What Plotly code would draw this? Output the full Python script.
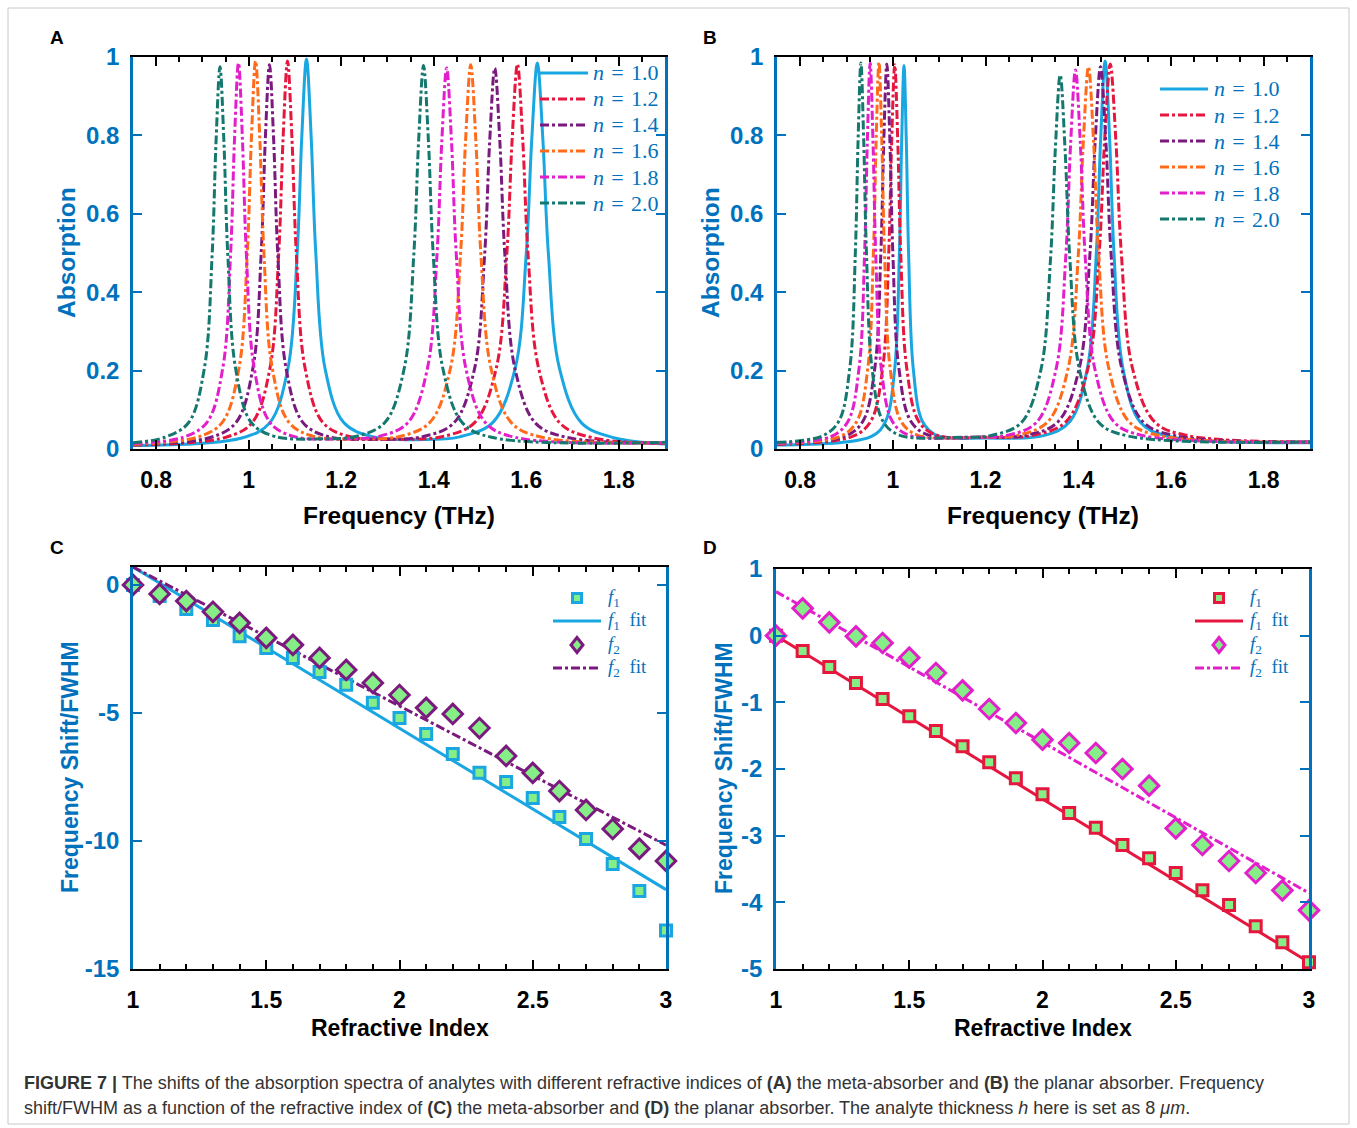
import plotly.graph_objects as go

W, H = 1357, 1128

# ---------------- Data ----------------
legend_n = ["1.0", "1.2", "1.4", "1.6", "1.8", "2.0"]
curve_colors = ["#1AA7E1", "#E5173F", "#7B1A7E", "#FF6B1A", "#E31FCB", "#15786E"]
curve_dash = ["solid", "dashdot", "dashdot", "dashdot", "dashdot", "dashdot"]

# Panel A (meta-absorber) absorption spectra
A_f_10 = [0.75, 0.985, 1.045, 1.085, 1.105, 1.115, 1.125, 1.135, 1.145, 1.165, 1.205, 1.265, 1.375, 1.456, 1.528, 1.576, 1.600, 1.612, 1.624, 1.636, 1.648, 1.672, 1.720, 1.792, 1.9]
A_a_10 = [0.009, 0.028, 0.066, 0.206, 0.503, 0.80, 0.995, 0.80, 0.503, 0.206, 0.068, 0.032, 0.024, 0.031, 0.068, 0.205, 0.497, 0.79, 0.985, 0.79, 0.497, 0.205, 0.066, 0.028, 0.013]
A_f_12 = [0.75, 0.951, 1.008, 1.046, 1.065, 1.0745, 1.084, 1.0935, 1.103, 1.122, 1.160, 1.217, 1.33, 1.42, 1.489, 1.535, 1.558, 1.5695, 1.581, 1.5925, 1.604, 1.627, 1.673, 1.742, 1.9]
A_a_12 = [0.010, 0.030, 0.068, 0.206, 0.50, 0.794, 0.99, 0.794, 0.50, 0.206, 0.068, 0.032, 0.025, 0.032, 0.068, 0.205, 0.496, 0.788, 0.982, 0.788, 0.496, 0.205, 0.066, 0.029, 0.014]
A_f_14 = [0.75, 0.919, 0.973, 1.009, 1.027, 1.036, 1.045, 1.054, 1.063, 1.081, 1.117, 1.171, 1.29, 1.378, 1.444, 1.488, 1.510, 1.521, 1.532, 1.543, 1.554, 1.576, 1.620, 1.686, 1.9]
A_a_14 = [0.011, 0.030, 0.068, 0.205, 0.497, 0.79, 0.98, 0.79, 0.497, 0.205, 0.068, 0.032, 0.025, 0.032, 0.067, 0.203, 0.493, 0.784, 0.972, 0.784, 0.493, 0.203, 0.066, 0.030, 0.015]
A_f_16 = [0.75, 0.889, 0.943, 0.979, 0.997, 1.006, 1.015, 1.024, 1.033, 1.051, 1.087, 1.141, 1.25, 1.326, 1.392, 1.436, 1.458, 1.469, 1.480, 1.491, 1.502, 1.524, 1.568, 1.634, 1.9]
A_a_16 = [0.012, 0.030, 0.068, 0.206, 0.50, 0.795, 0.99, 0.795, 0.50, 0.206, 0.068, 0.032, 0.026, 0.032, 0.068, 0.205, 0.497, 0.79, 0.98, 0.79, 0.497, 0.205, 0.067, 0.030, 0.016]
A_f_18 = [0.75, 0.859, 0.910, 0.944, 0.961, 0.9695, 0.978, 0.9865, 0.995, 1.012, 1.046, 1.097, 1.21, 1.281, 1.344, 1.386, 1.407, 1.4175, 1.428, 1.4385, 1.449, 1.470, 1.512, 1.575, 1.9]
A_a_18 = [0.014, 0.030, 0.068, 0.206, 0.499, 0.792, 0.985, 0.792, 0.499, 0.206, 0.068, 0.032, 0.026, 0.032, 0.067, 0.203, 0.493, 0.784, 0.972, 0.784, 0.493, 0.203, 0.067, 0.030, 0.016]
A_f_20 = [0.75, 0.819, 0.870, 0.904, 0.921, 0.9295, 0.938, 0.9465, 0.955, 0.972, 1.006, 1.057, 1.16, 1.231, 1.294, 1.336, 1.357, 1.3675, 1.378, 1.3885, 1.399, 1.420, 1.462, 1.525, 1.9]
A_a_20 = [0.016, 0.030, 0.067, 0.204, 0.494, 0.784, 0.975, 0.784, 0.494, 0.204, 0.067, 0.032, 0.026, 0.032, 0.067, 0.204, 0.496, 0.788, 0.978, 0.788, 0.496, 0.204, 0.067, 0.030, 0.017]

# Panel B (planar absorber) absorption spectra
B_f_10 = [0.75, 0.954, 0.984, 1.004, 1.014, 1.019, 1.024, 1.029, 1.034, 1.044, 1.064, 1.094, 1.2, 1.325, 1.382, 1.420, 1.439, 1.4485, 1.458, 1.4675, 1.477, 1.496, 1.534, 1.591, 1.9]
B_a_10 = [0.010, 0.032, 0.070, 0.205, 0.496, 0.786, 0.978, 0.786, 0.496, 0.205, 0.070, 0.035, 0.028, 0.034, 0.070, 0.208, 0.502, 0.796, 0.99, 0.796, 0.502, 0.208, 0.068, 0.033, 0.016]
B_f_12 = [0.75, 0.913, 0.952, 0.978, 0.991, 0.9975, 1.004, 1.0105, 1.017, 1.030, 1.056, 1.095, 1.2, 1.301, 1.373, 1.421, 1.445, 1.457, 1.469, 1.481, 1.493, 1.517, 1.565, 1.637, 1.9]
B_a_12 = [0.012, 0.032, 0.070, 0.206, 0.497, 0.788, 0.98, 0.788, 0.497, 0.206, 0.070, 0.035, 0.030, 0.035, 0.069, 0.206, 0.498, 0.79, 0.982, 0.79, 0.498, 0.206, 0.069, 0.034, 0.018]
B_f_14 = [0.75, 0.896, 0.935, 0.961, 0.974, 0.9805, 0.987, 0.9935, 1.000, 1.013, 1.039, 1.078, 1.19, 1.287, 1.356, 1.402, 1.425, 1.4365, 1.448, 1.4595, 1.471, 1.494, 1.540, 1.609, 1.9]
B_a_14 = [0.013, 0.032, 0.070, 0.206, 0.498, 0.79, 0.982, 0.79, 0.498, 0.206, 0.070, 0.035, 0.030, 0.035, 0.069, 0.205, 0.494, 0.785, 0.975, 0.785, 0.494, 0.205, 0.069, 0.034, 0.018]
B_f_16 = [0.75, 0.886, 0.922, 0.946, 0.958, 0.964, 0.970, 0.976, 0.982, 0.994, 1.018, 1.054, 1.18, 1.268, 1.334, 1.378, 1.400, 1.411, 1.422, 1.433, 1.444, 1.466, 1.510, 1.576, 1.9]
B_a_16 = [0.014, 0.032, 0.070, 0.207, 0.50, 0.792, 0.987, 0.792, 0.50, 0.207, 0.070, 0.035, 0.030, 0.035, 0.069, 0.205, 0.494, 0.785, 0.975, 0.785, 0.494, 0.205, 0.069, 0.034, 0.018]
B_f_18 = [0.75, 0.867, 0.903, 0.927, 0.939, 0.945, 0.951, 0.957, 0.963, 0.975, 0.999, 1.035, 1.17, 1.247, 1.310, 1.352, 1.373, 1.3835, 1.394, 1.4045, 1.415, 1.436, 1.478, 1.541, 1.9]
B_a_18 = [0.015, 0.032, 0.070, 0.206, 0.50, 0.79, 0.985, 0.79, 0.50, 0.206, 0.070, 0.035, 0.030, 0.035, 0.068, 0.203, 0.49, 0.778, 0.967, 0.778, 0.49, 0.203, 0.068, 0.034, 0.018]
B_f_20 = [0.75, 0.847, 0.883, 0.907, 0.919, 0.925, 0.931, 0.937, 0.943, 0.955, 0.979, 1.015, 1.15, 1.214, 1.277, 1.319, 1.340, 1.3505, 1.361, 1.3715, 1.382, 1.403, 1.445, 1.508, 1.9]
B_a_20 = [0.017, 0.033, 0.070, 0.206, 0.50, 0.79, 0.985, 0.79, 0.50, 0.206, 0.070, 0.035, 0.030, 0.035, 0.067, 0.20, 0.482, 0.765, 0.954, 0.765, 0.482, 0.20, 0.067, 0.033, 0.018]

# Panels C and D: frequency shift / FWHM vs refractive index
n_index = [1.0, 1.1, 1.2, 1.3, 1.4, 1.5, 1.6, 1.7, 1.8, 1.9, 2.0,
           2.1, 2.2, 2.3, 2.4, 2.5, 2.6, 2.7, 2.8, 2.9, 3.0]
C_f1 = [0, -0.43, -0.94, -1.37, -2.0, -2.46, -2.85, -3.4, -3.9, -4.6, -5.2,
        -5.82, -6.6, -7.34, -7.7, -8.32, -9.06, -9.92, -10.9, -11.95, -13.5]
C_f2 = [0, -0.35, -0.63, -1.05, -1.48, -2.07, -2.34, -2.85, -3.32, -3.83, -4.3,
        -4.8, -5.04, -5.59, -6.68, -7.34, -8.05, -8.79, -9.53, -10.3, -10.78]
D_f1 = [0, -0.23, -0.47, -0.71, -0.95, -1.21, -1.43, -1.66, -1.9, -2.14, -2.38,
        -2.66, -2.88, -3.14, -3.34, -3.56, -3.82, -4.04, -4.36, -4.6, -4.9]
D_f2 = [0, 0.41, 0.2, -0.01, -0.11, -0.33, -0.56, -0.82, -1.1, -1.31, -1.56,
        -1.61, -1.76, -2.0, -2.25, -2.89, -3.14, -3.38, -3.56, -3.82, -4.12]
fit_n = [1.0, 3.0]
C_f1_fit = [0.7, -11.9]
C_f2_fit = [0.7, -10.16]
D_f1_fit = [0.0, -4.9]
D_f2_fit = [0.66, -3.86]

# Tick labels
AB_yticks = [0, 0.2, 0.4, 0.6, 0.8, 1]
AB_yticktext = ["0", "0.2", "0.4", "0.6", "0.8", "1"]
C_yticks = [-15, -10, -5, 0]
C_yticktext = ["-15", "-10", "-5", "0"]
D_yticks = [-5, -4, -3, -2, -1, 0, 1]
D_yticktext = ["-5", "-4", "-3", "-2", "-1", "0", "1"]

# ---------------- Styling helpers ----------------
BLUE = "#0072BD"
GREEN_FILL = "#86EE86"
SANS = "Liberation Sans, Arial, sans-serif"
SERIF = "Liberation Serif, Times New Roman, serif"


def px(x):
    return x / W


def py(y):
    return 1 - y / H


fig = go.Figure()

A_sets = [(A_f_10, A_a_10), (A_f_12, A_a_12), (A_f_14, A_a_14),
          (A_f_16, A_a_16), (A_f_18, A_a_18), (A_f_20, A_a_20)]
B_sets = [(B_f_10, B_a_10), (B_f_12, B_a_12), (B_f_14, B_a_14),
          (B_f_16, B_a_16), (B_f_18, B_a_18), (B_f_20, B_a_20)]

for i, (fx, ay) in enumerate(A_sets):
    fig.add_trace(go.Scatter(x=fx, y=ay, mode="lines", xaxis="x", yaxis="y",
                             line=dict(color=curve_colors[i], width=3, dash=curve_dash[i],
                                       shape="spline", smoothing=1.0),
                             name="n = " + legend_n[i], showlegend=False))
for i, (fx, ay) in enumerate(B_sets):
    fig.add_trace(go.Scatter(x=fx, y=ay, mode="lines", xaxis="x2", yaxis="y2",
                             line=dict(color=curve_colors[i], width=3, dash=curve_dash[i],
                                       shape="spline", smoothing=1.0),
                             name="n = " + legend_n[i], showlegend=False))

C_col1, C_col2 = "#1AA7E1", "#7B1A7E"
D_col1, D_col2 = "#E5173F", "#E31FCB"

for (xa, ya, y1, y2, f1fit, f2fit, c1, c2) in [
        ("x3", "y3", C_f1, C_f2, C_f1_fit, C_f2_fit, C_col1, C_col2),
        ("x4", "y4", D_f1, D_f2, D_f1_fit, D_f2_fit, D_col1, D_col2)]:
    fig.add_trace(go.Scatter(x=fit_n, y=f1fit, mode="lines", xaxis=xa, yaxis=ya,
                             line=dict(color=c1, width=3), showlegend=False, name="f1 fit"))
    fig.add_trace(go.Scatter(x=fit_n, y=f2fit, mode="lines", xaxis=xa, yaxis=ya,
                             line=dict(color=c2, width=3, dash="dashdot"), showlegend=False,
                             name="f2 fit"))
    fig.add_trace(go.Scatter(x=n_index, y=y1, mode="markers", xaxis=xa, yaxis=ya,
                             marker=dict(symbol="square", size=11, color=GREEN_FILL,
                                         line=dict(color=c1, width=3)),
                             cliponaxis=False, showlegend=False, name="f1"))
    fig.add_trace(go.Scatter(x=n_index, y=y2, mode="markers", xaxis=xa, yaxis=ya,
                             marker=dict(symbol="diamond", size=15, color=GREEN_FILL,
                                         line=dict(color=c2, width=3)),
                             cliponaxis=False, showlegend=False, name="f2"))


def xax(dom, rng, dtick, minor_dtick, anchor):
    return dict(domain=[px(dom[0]), px(dom[1])], range=rng, anchor=anchor,
                showline=True, linecolor="black", linewidth=2, mirror="ticks",
                ticks="inside", ticklen=9, tickwidth=2, tickcolor="black",
                dtick=dtick, tick0=0, showgrid=False, zeroline=False, automargin=False,
                minor=dict(ticks="inside", ticklen=5, tickwidth=1.5, dtick=minor_dtick,
                           tickcolor="black", showgrid=False),
                tickfont=dict(family=SANS, size=23, color="black", weight="bold"),
                ticklabelstandoff=9)


def yax(dom, rng, tickvals, ticktext, anchor):
    return dict(domain=[py(dom[1]), py(dom[0])], range=rng, anchor=anchor,
                showline=True, linecolor=BLUE, linewidth=2.5, mirror="ticks",
                ticks="inside", ticklen=9, tickwidth=2, tickcolor=BLUE,
                tickmode="array", tickvals=tickvals, ticktext=ticktext,
                showgrid=False, zeroline=False, automargin=False,
                tickfont=dict(family=SANS, size=24, color=BLUE, weight="bold"),
                ticklabelstandoff=6)


fig.update_layout(
    width=W, height=H, template="none",
    margin=dict(l=0, r=0, t=0, b=0, pad=0, autoexpand=False),
    paper_bgcolor="white", plot_bgcolor="white", showlegend=False,
    xaxis=xax((133, 665), [0.75, 1.9], 0.2, 0.05, "y"),
    yaxis=yax((57, 449), [0, 1], AB_yticks, AB_yticktext, "x"),
    xaxis2=xax((777, 1310), [0.75, 1.9], 0.2, 0.05, "y2"),
    yaxis2=yax((57, 449), [0, 1], AB_yticks, AB_yticktext, "x2"),
    xaxis3=xax((133, 666), [1, 3], 0.5, 0.1, "y3"),
    yaxis3=yax((567, 969), [-15, 0.7], C_yticks, C_yticktext, "x3"),
    xaxis4=xax((776, 1309), [1, 3], 0.5, 0.1, "y4"),
    yaxis4=yax((569, 969), [-5, 1], D_yticks, D_yticktext, "x4"),
)

ann = []
shapes = []


def text_ann(txt, x, y, size, color, family=SANS, xanchor="center", angle=0):
    ann.append(dict(text=txt, x=px(x), y=py(y), xref="paper", yref="paper",
                    showarrow=False, xanchor=xanchor, yanchor="middle", textangle=angle,
                    font=dict(family=family, size=size, color=color)))


# Panel letters
for letter, x, y in [("A", 57, 38), ("B", 710, 38), ("C", 57, 547), ("D", 710, 547)]:
    text_ann("<b>" + letter + "</b>", x, y, 19, "black")
# Axis titles
text_ann("<b>Frequency (THz)</b>", 399, 515, 24.5, "black")
text_ann("<b>Frequency (THz)</b>", 1043, 515, 24.5, "black")
text_ann("<b>Refractive Index</b>", 400, 1028, 23, "black")
text_ann("<b>Refractive Index</b>", 1043, 1028, 23, "black")
text_ann("<b>Absorption</b>", 66, 253, 24.5, BLUE, angle=-90)
text_ann("<b>Absorption</b>", 710, 253, 24.5, BLUE, angle=-90)
text_ann("<b>Frequency Shift/FWHM</b>", 70, 767, 23, BLUE, angle=-90)
text_ann("<b>Frequency Shift/FWHM</b>", 724, 768, 23, BLUE, angle=-90)

# Legends for A and B (line samples + labels)
for (lx0, lx1, tx, y0) in [(540, 588, 591, 73), (1160, 1208, 1212, 89)]:
    for i in range(6):
        yy = y0 + 26 * i
        shapes.append(dict(type="line", xref="paper", yref="paper",
                           x0=px(lx0), x1=px(lx1), y0=py(yy), y1=py(yy),
                           line=dict(color=curve_colors[i], width=3, dash=curve_dash[i])))
        text_ann("<i>n</i>\u2004=\u2004" + legend_n[i], tx, yy, 22, BLUE,
                 family=SERIF, xanchor="left")

# Legends for C and D
for (mx, lx0, lx1, tx, c1, c2) in [(577, 553, 601, 606, C_col1, C_col2),
                                   (1219, 1195, 1243, 1248, D_col1, D_col2)]:
    shapes.append(dict(type="rect", xref="paper", yref="paper",
                       x0=px(mx - 4.5), x1=px(mx + 4.5), y0=py(598 + 4.5), y1=py(598 - 4.5),
                       line=dict(color=c1, width=3), fillcolor=GREEN_FILL))
    shapes.append(dict(type="line", xref="paper", yref="paper",
                       x0=px(lx0), x1=px(lx1), y0=py(621), y1=py(621),
                       line=dict(color=c1, width=3)))
    dpath = "M {:.5f},{:.5f} L {:.5f},{:.5f} L {:.5f},{:.5f} L {:.5f},{:.5f} Z".format(
        px(mx), py(645 - 7.5), px(mx + 6), py(645), px(mx), py(645 + 7.5), px(mx - 6), py(645))
    shapes.append(dict(type="path", xref="paper", yref="paper", path=dpath,
                       line=dict(color=c2, width=3), fillcolor=GREEN_FILL))
    shapes.append(dict(type="line", xref="paper", yref="paper",
                       x0=px(lx0), x1=px(lx1), y0=py(668), y1=py(668),
                       line=dict(color=c2, width=3, dash="dashdot")))
    text_ann("<i>f</i><sub>1</sub>", tx, 598, 19, BLUE, family=SERIF, xanchor="left")
    text_ann("<i>f</i><sub>1</sub>\u2002fit", tx, 621, 19, BLUE, family=SERIF, xanchor="left")
    text_ann("<i>f</i><sub>2</sub>", tx, 645, 19, BLUE, family=SERIF, xanchor="left")
    text_ann("<i>f</i><sub>2</sub>\u2002fit", tx, 668, 19, BLUE, family=SERIF, xanchor="left")

# Caption
cap1 = ("<b>FIGURE 7 |</b> The shifts of the absorption spectra of analytes with different refractive "
        "indices of <b>(A)</b> the meta-absorber and <b>(B)</b> the planar absorber. Frequency")
cap2 = ("shift/FWHM as a function of the refractive index of <b>(C)</b> the meta-absorber and "
        "<b>(D)</b> the planar absorber. The analyte thickness <i>h</i> here is set as 8 <i>μm</i>.")
text_ann(cap1, 22, 1083, 18, "#333333", xanchor="left")
text_ann(cap2, 22, 1108, 18, "#333333", xanchor="left")

# Outer frame
shapes.append(dict(type="rect", xref="paper", yref="paper",
                   x0=px(8), x1=px(1349), y0=py(1124), y1=py(8),
                   line=dict(color="#C8C8C8", width=1), fillcolor="rgba(0,0,0,0)", layer="below"))

fig.update_layout(annotations=ann, shapes=shapes)

fig.write_html("out.html", config={"displayModeBar": False},
               post_script="document.body.style.margin='0px';document.body.style.overflow='hidden';")
